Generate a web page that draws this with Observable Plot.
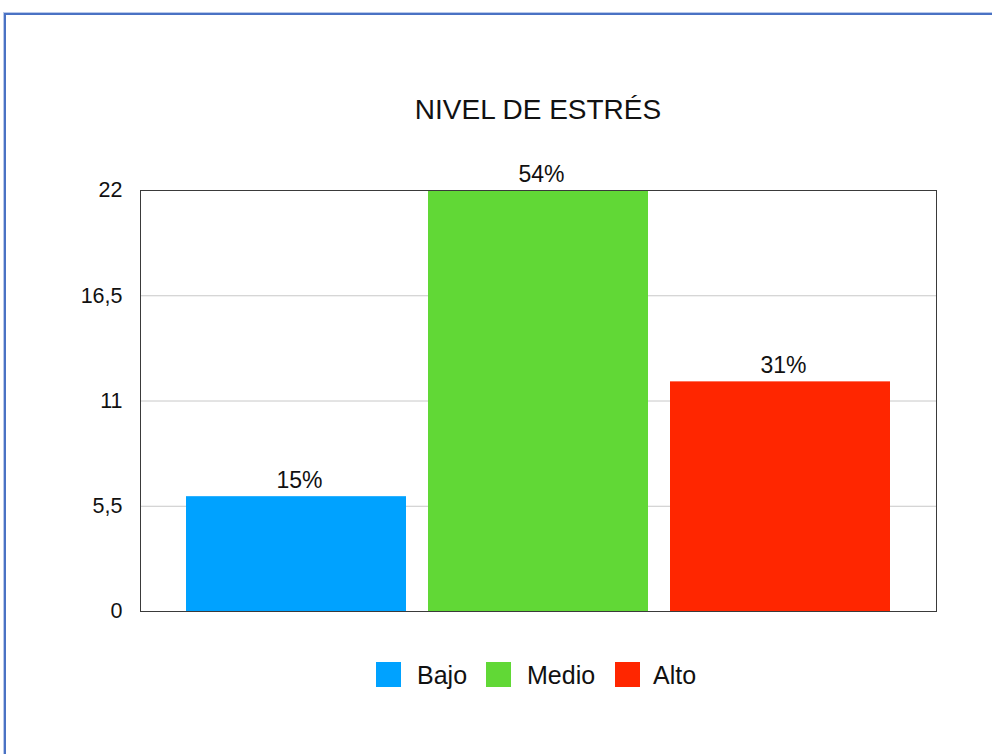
<!DOCTYPE html>
<html>
<head>
<meta charset="utf-8">
<script src="https://cdn.jsdelivr.net/npm/d3@7"></script>
<script src="https://cdn.jsdelivr.net/npm/@observablehq/plot@0.6"></script>
<style>
  body { margin: 0; background: #fff; font-family: "Liberation Sans", Arial, Helvetica, sans-serif; }
  #wrap { position: relative; width: 992px; height: 754px; overflow: hidden; background: #fff; }
  #frame { position: absolute; left: 4px; top: 13px; width: 1000px; height: 800px;
           border-left: 2px solid #4a72c4; border-top: 2px solid #4a72c4;
           box-shadow: -1px -1px 0 #b9c9ea; }
  #title { position: absolute; left: 338px; width: 400px; top: 94px; text-align: center;
           font-size: 28px; color: #111; line-height: 32px; }
  #chart { position: absolute; left: 0; top: 0; }
  #legend { position: absolute; top: 662px; left: 0; width: 992px; height: 26px; font-size: 25px; color: #111; }
  .sw { position: absolute; width: 25px; height: 25px; top: 0; }
  .lt { position: absolute; top: -1px; line-height: 28px; }
</style>
</head>
<body>
<div id="wrap">
  <div id="frame"></div>
  <div id="title">NIVEL DE ESTRÉS</div>
  <div id="chart"></div>
  <div id="legend"></div>
</div>
<script>
const categories = ["Bajo", "Medio", "Alto"];
const values = [6, 22, 12];
const valueLabels = ["15%", "54%", "31%"];
const colors = ["#00a2ff", "#61d836", "#ff2600"];
const yTicks = [0, 5.5, 11, 16.5, 22];
const yTickLabels = ["0", "5,5", "11", "16,5", "22"];
const chartTitle = "NIVEL DE ESTRÉS";

const data = categories.map((c, i) => ({cat: c, value: values[i], label: valueLabels[i]}));

document.getElementById("title").textContent = chartTitle;

const plot = Plot.plot({
  width: 992,
  height: 650,
  marginTop: 190,
  marginBottom: 39,
  marginLeft: 140,
  marginRight: 56,
  style: {fontFamily: "'Liberation Sans', Arial, Helvetica, sans-serif", background: "transparent"},
  x: {domain: categories, paddingInner: 0.09, paddingOuter: 0.183, axis: null},
  y: {domain: [0, 22], ticks: yTicks, tickFormat: (d) => yTickLabels[yTicks.indexOf(d)], tickSize: 0, tickPadding: 18, label: null},
  color: {domain: categories, range: colors},
  marks: [
    Plot.gridY(yTicks, {stroke: "#c8c8c8", strokeOpacity: 1, strokeWidth: 1}),
    Plot.barY(data, {x: "cat", y: "value", fill: "cat"}),
    Plot.frame({stroke: "#3a3a3a", strokeWidth: 1}),
    Plot.text(data, {x: "cat", y: "value", text: "label", dy: -9, dx: 3, lineAnchor: "bottom", fontSize: 23, fill: "#111"}),
    Plot.axisY(yTicks, {tickSize: 0, tickPadding: 18, fontSize: 21.5, fill: "#111", tickFormat: (d) => yTickLabels[yTicks.indexOf(d)], label: null})
  ]
});
document.getElementById("chart").appendChild(plot);

const legend = document.getElementById("legend");
const swX = [376, 486, 615];
const txX = [417, 527, 653];
categories.forEach((c, i) => {
  const s = document.createElement("div");
  s.className = "sw";
  s.style.left = swX[i] + "px";
  s.style.background = colors[i];
  legend.appendChild(s);
  const t = document.createElement("div");
  t.className = "lt";
  t.style.left = txX[i] + "px";
  t.textContent = c;
  legend.appendChild(t);
});
</script>
</body>
</html>
